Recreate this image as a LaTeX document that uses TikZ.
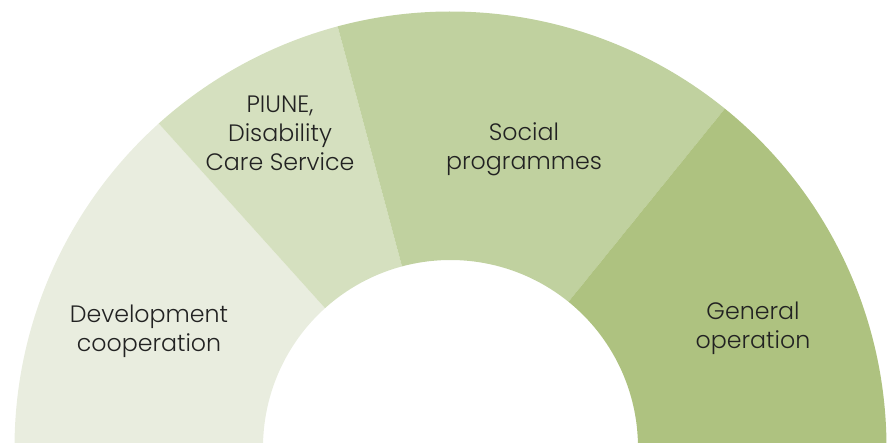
\documentclass[tikz,border=0pt]{standalone}
\usepackage{fontspec}
\setmainfont{Poppins Light}
\definecolor{sagepale}{HTML}{E9EDDF}
\definecolor{sagelight}{HTML}{D5E0BF}
\definecolor{sagemid}{HTML}{C0D19F}
\definecolor{sagedeep}{HTML}{AEC280}
\definecolor{inkgray}{HTML}{222222}

\tikzset{
  seglabel/.style={align=center, text=inkgray, inner sep=0pt,
    font=\fontsize{13.5}{16.4}\selectfont},
}

\begin{document}
\begin{tikzpicture}[x=0.02cm, y=0.02cm]
  \useasboundingbox (0,0) rectangle (887,443);
  \begin{scope}[shift={(450.5,-4.5)}]
    \fill[sagepale]  (180:436) arc[start angle=180, end angle=132, radius=436] -- (132:187.5) arc[start angle=132, end angle=180, radius=187.5] -- cycle;
    \fill[sagelight] (132:436) arc[start angle=132, end angle=105, radius=436] -- (105:187.5) arc[start angle=105, end angle=132, radius=187.5] -- cycle;
    \fill[sagemid]   (105:436) arc[start angle=105, end angle=51,  radius=436] -- (51:187.5)  arc[start angle=51,  end angle=105, radius=187.5] -- cycle;
    \fill[sagedeep]  (51:436)  arc[start angle=51,  end angle=0,   radius=436] -- (0:187.5)   arc[start angle=0,   end angle=51,  radius=187.5] -- cycle;
  \end{scope}
  % labels
  \node[seglabel] (devcoop) at (149,112) {Development\\cooperation};
  \node[seglabel] (piune)   at (280,310) {PIUNE,\\Disability\\Care Service};
  \node[seglabel] (social)  at (524,294) {Social\\programmes};
  \node[seglabel] (general) at (753,115) {General\\operation};
\end{tikzpicture}
\end{document}
